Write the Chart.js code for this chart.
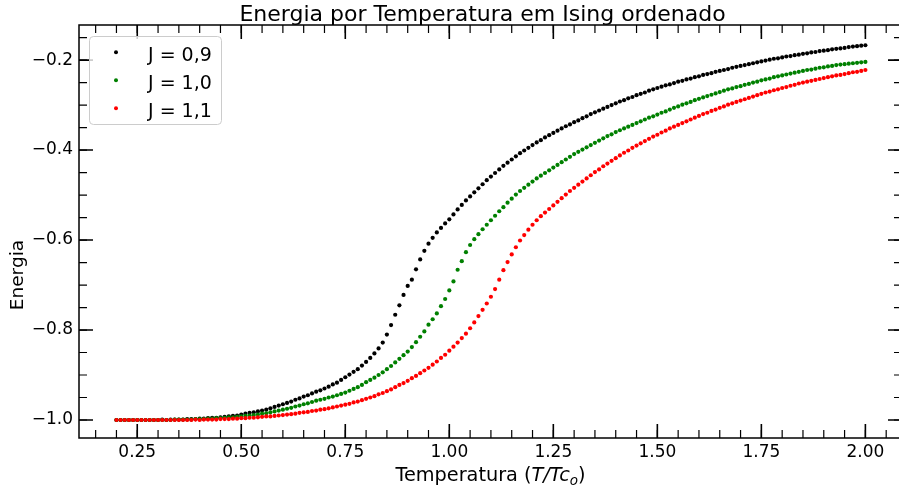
<!DOCTYPE html>
<html>
<head>
<meta charset="utf-8">
<script src="https://cdn.jsdelivr.net/npm/chart.js@4.4.0/dist/chart.umd.min.js"></script>
<style>
  html, body { margin: 0; padding: 0; background: #fff; overflow: hidden; }
</style>
</head>
<body>
<canvas id="grafico" width="905" height="490"></canvas>
<script>
// temperatura T/Tc_o
const temperatura = [
  0.20, 0.21, 0.22, 0.23, 0.24, 0.25, 0.26, 0.27, 0.28, 0.29,
  0.30, 0.31, 0.32, 0.33, 0.34, 0.35, 0.36, 0.37, 0.38, 0.39,
  0.40, 0.41, 0.42, 0.43, 0.44, 0.45, 0.46, 0.47, 0.48, 0.49,
  0.50, 0.51, 0.52, 0.53, 0.54, 0.55, 0.56, 0.57, 0.58, 0.59,
  0.60, 0.61, 0.62, 0.63, 0.64, 0.65, 0.66, 0.67, 0.68, 0.69,
  0.70, 0.71, 0.72, 0.73, 0.74, 0.75, 0.76, 0.77, 0.78, 0.79,
  0.80, 0.81, 0.82, 0.83, 0.84, 0.85, 0.86, 0.87, 0.88, 0.89,
  0.90, 0.91, 0.92, 0.93, 0.94, 0.95, 0.96, 0.97, 0.98, 0.99,
  1.00, 1.01, 1.02, 1.03, 1.04, 1.05, 1.06, 1.07, 1.08, 1.09,
  1.10, 1.11, 1.12, 1.13, 1.14, 1.15, 1.16, 1.17, 1.18, 1.19,
  1.20, 1.21, 1.22, 1.23, 1.24, 1.25, 1.26, 1.27, 1.28, 1.29,
  1.30, 1.31, 1.32, 1.33, 1.34, 1.35, 1.36, 1.37, 1.38, 1.39,
  1.40, 1.41, 1.42, 1.43, 1.44, 1.45, 1.46, 1.47, 1.48, 1.49,
  1.50, 1.51, 1.52, 1.53, 1.54, 1.55, 1.56, 1.57, 1.58, 1.59,
  1.60, 1.61, 1.62, 1.63, 1.64, 1.65, 1.66, 1.67, 1.68, 1.69,
  1.70, 1.71, 1.72, 1.73, 1.74, 1.75, 1.76, 1.77, 1.78, 1.79,
  1.80, 1.81, 1.82, 1.83, 1.84, 1.85, 1.86, 1.87, 1.88, 1.89,
  1.90, 1.91, 1.92, 1.93, 1.94, 1.95, 1.96, 1.97, 1.98, 1.99,
  2.00
];

// J = 0,9
const energiaJ09 = [
  -1.000, -1.000, -1.000, -1.000, -1.000, -1.000, -1.000, -1.000, -1.000, -1.000,
  -1.000, -0.999, -1.000, -0.999, -0.999, -0.999, -0.999, -0.998, -0.998, -0.998,
  -0.997, -0.997, -0.996, -0.995, -0.995, -0.994, -0.993, -0.992, -0.991, -0.990,
  -0.988, -0.986, -0.984, -0.983, -0.981, -0.979, -0.977, -0.974, -0.971, -0.968,
  -0.965, -0.962, -0.959, -0.955, -0.952, -0.948, -0.945, -0.941, -0.937, -0.934,
  -0.930, -0.926, -0.921, -0.917, -0.911, -0.905, -0.899, -0.893, -0.887, -0.879,
  -0.871, -0.862, -0.852, -0.841, -0.828, -0.810, -0.789, -0.766, -0.745, -0.722,
  -0.702, -0.688, -0.665, -0.643, -0.624, -0.608, -0.595, -0.583, -0.573, -0.563,
  -0.554, -0.543, -0.532, -0.522, -0.512, -0.503, -0.494, -0.485, -0.476, -0.467,
  -0.459, -0.451, -0.443, -0.435, -0.428, -0.421, -0.414, -0.407, -0.401, -0.395,
  -0.389, -0.383, -0.378, -0.372, -0.367, -0.362, -0.357, -0.352, -0.347, -0.343,
  -0.338, -0.334, -0.329, -0.325, -0.320, -0.316, -0.312, -0.308, -0.304, -0.300,
  -0.296, -0.292, -0.289, -0.285, -0.282, -0.278, -0.275, -0.272, -0.268, -0.265,
  -0.262, -0.259, -0.256, -0.254, -0.251, -0.248, -0.246, -0.243, -0.241, -0.238,
  -0.236, -0.233, -0.231, -0.229, -0.226, -0.224, -0.222, -0.220, -0.217, -0.215,
  -0.213, -0.211, -0.209, -0.207, -0.205, -0.203, -0.201, -0.199, -0.197, -0.196,
  -0.194, -0.192, -0.191, -0.189, -0.188, -0.186, -0.185, -0.183, -0.182, -0.180,
  -0.179, -0.178, -0.176, -0.175, -0.174, -0.173, -0.171, -0.170, -0.169, -0.168,
  -0.167
];

// J = 1,0
const energiaJ10 = [
  -1.000, -1.000, -1.000, -1.000, -1.000, -1.000, -1.000, -1.000, -1.000, -1.000,
  -1.000, -1.000, -1.000, -1.000, -0.999, -0.999, -0.999, -0.999, -0.999, -0.998,
  -0.998, -0.998, -0.997, -0.997, -0.996, -0.996, -0.995, -0.994, -0.994, -0.993,
  -0.992, -0.991, -0.990, -0.989, -0.988, -0.986, -0.985, -0.983, -0.981, -0.979,
  -0.977, -0.975, -0.973, -0.970, -0.968, -0.965, -0.963, -0.960, -0.957, -0.955,
  -0.953, -0.950, -0.948, -0.945, -0.942, -0.939, -0.935, -0.931, -0.927, -0.922,
  -0.916, -0.911, -0.906, -0.900, -0.894, -0.887, -0.880, -0.872, -0.864, -0.856,
  -0.848, -0.838, -0.827, -0.815, -0.803, -0.788, -0.776, -0.763, -0.747, -0.731,
  -0.712, -0.692, -0.666, -0.647, -0.627, -0.611, -0.598, -0.587, -0.576, -0.566,
  -0.556, -0.546, -0.536, -0.527, -0.517, -0.508, -0.499, -0.491, -0.484, -0.477,
  -0.470, -0.463, -0.457, -0.451, -0.445, -0.439, -0.433, -0.427, -0.421, -0.415,
  -0.409, -0.404, -0.399, -0.394, -0.389, -0.384, -0.379, -0.374, -0.369, -0.365,
  -0.360, -0.356, -0.352, -0.348, -0.344, -0.340, -0.336, -0.332, -0.328, -0.325,
  -0.321, -0.317, -0.314, -0.310, -0.306, -0.303, -0.299, -0.296, -0.293, -0.289,
  -0.286, -0.283, -0.280, -0.277, -0.274, -0.271, -0.268, -0.265, -0.263, -0.260,
  -0.258, -0.255, -0.253, -0.250, -0.248, -0.245, -0.243, -0.241, -0.238, -0.236,
  -0.234, -0.232, -0.230, -0.228, -0.226, -0.224, -0.222, -0.221, -0.219, -0.217,
  -0.216, -0.214, -0.213, -0.211, -0.210, -0.209, -0.208, -0.207, -0.206, -0.205,
  -0.204
];

// J = 1,1
const energiaJ11 = [
  -1.000, -1.000, -1.000, -1.000, -1.000, -1.000, -1.000, -1.000, -1.000, -1.000,
  -1.000, -1.000, -1.000, -1.000, -1.000, -1.000, -1.000, -1.000, -1.000, -0.999,
  -1.000, -0.999, -0.999, -0.999, -0.999, -0.998, -0.998, -0.998, -0.997, -0.997,
  -0.996, -0.996, -0.995, -0.995, -0.994, -0.993, -0.992, -0.992, -0.991, -0.990,
  -0.989, -0.988, -0.987, -0.986, -0.984, -0.983, -0.982, -0.980, -0.979, -0.977,
  -0.976, -0.974, -0.972, -0.970, -0.968, -0.966, -0.964, -0.961, -0.959, -0.956,
  -0.953, -0.950, -0.947, -0.943, -0.940, -0.936, -0.932, -0.927, -0.922, -0.918,
  -0.913, -0.907, -0.902, -0.896, -0.890, -0.884, -0.877, -0.870, -0.862, -0.855,
  -0.846, -0.837, -0.828, -0.818, -0.808, -0.796, -0.783, -0.769, -0.755, -0.741,
  -0.726, -0.709, -0.688, -0.667, -0.649, -0.632, -0.616, -0.601, -0.589, -0.577,
  -0.566, -0.556, -0.547, -0.539, -0.531, -0.523, -0.515, -0.507, -0.499, -0.491,
  -0.484, -0.477, -0.470, -0.463, -0.456, -0.449, -0.443, -0.436, -0.430, -0.424,
  -0.418, -0.412, -0.406, -0.401, -0.395, -0.390, -0.385, -0.380, -0.375, -0.370,
  -0.366, -0.361, -0.357, -0.352, -0.348, -0.344, -0.340, -0.336, -0.332, -0.328,
  -0.324, -0.320, -0.317, -0.313, -0.310, -0.306, -0.303, -0.299, -0.296, -0.293,
  -0.290, -0.287, -0.284, -0.281, -0.278, -0.275, -0.272, -0.270, -0.267, -0.265,
  -0.262, -0.260, -0.257, -0.255, -0.252, -0.250, -0.248, -0.246, -0.244, -0.242,
  -0.240, -0.238, -0.236, -0.234, -0.233, -0.231, -0.229, -0.227, -0.226, -0.224,
  -0.222
];

const rotulos = ["J = 0,9", "J = 1,0", "J = 1,1"];
const cores = ["#000000", "#008000", "#ff0000"];
const ticksX = [0.25, 0.5, 0.75, 1.0, 1.25, 1.5, 1.75, 2.0];
const ticksY = [-1.0, -0.8, -0.6, -0.4, -0.2];
const titulo = "Energia por Temperatura em Ising ordenado";
const tituloY = "Energia";

const FONTE = '"DejaVu Sans", sans-serif';
Chart.defaults.font.family = FONTE;
Chart.defaults.color = "#000";

function pontos(energia) {
    return temperatura.map((t, i) => ({ x: t, y: energia[i] }));
}

function serie(label, energia, cor, ordem) {
    return {
        label: label,
        data: pontos(energia),
        backgroundColor: cor,
        borderColor: cor,
        pointRadius: 2.1,
        pointBorderWidth: 0,
        pointHoverRadius: 2.1,
        showLine: false,
        order: ordem,
    };
}

// minor ticks every 0.05
function menores(min, max) {
    const out = [];
    for (let k = Math.ceil(min / 0.05); k * 0.05 <= max; k++) out.push(k * 0.05);
    return out;
}

const moldura = {
    id: "moldura",
    afterDraw(chart) {
        const { ctx, chartArea: a } = chart;
        const x = chart.scales.x;
        const y = chart.scales.y;
        ctx.save();
        ctx.strokeStyle = "#000";
        ctx.fillStyle = "#000";

        // ticks (inward, all four sides)
        const marca = (val, len, lw, eixo) => {
            ctx.lineWidth = lw;
            ctx.beginPath();
            if (eixo === "x") {
                const p = x.getPixelForValue(val);
                ctx.moveTo(p, a.bottom); ctx.lineTo(p, a.bottom - len);
                ctx.moveTo(p, a.top); ctx.lineTo(p, a.top + len);
            } else {
                const p = y.getPixelForValue(val);
                ctx.moveTo(a.left, p); ctx.lineTo(a.left + len, p);
                ctx.moveTo(a.right, p); ctx.lineTo(a.right - len, p);
            }
            ctx.stroke();
        };
        menores(x.min, x.max).forEach(v => marca(v, 8, 1.2, "x"));
        menores(y.min, y.max).forEach(v => marca(v, 8, 1.2, "y"));
        ticksX.forEach(v => marca(v, 14, 1.6, "x"));
        ticksY.forEach(v => marca(v, 14, 1.6, "y"));

        ctx.lineWidth = 1.5;
        ctx.strokeRect(a.left, a.top, a.right - a.left, a.bottom - a.top);

        // title
        const cx = (a.left + a.right) / 2;
        ctx.textAlign = "center";
        ctx.textBaseline = "alphabetic";
        ctx.font = "22px " + FONTE;
        ctx.fillText(titulo, cx - 8, 21);

        // x label: Temperatura (T/Tc_o)
        const partes = [
            { t: "Temperatura (", f: "19.3px " + FONTE, dy: 0 },
            { t: "T/Tc", f: "italic 19.3px " + FONTE, dy: 0 },
            { t: "o", f: "italic 13.5px " + FONTE, dy: 4 },
            { t: ")", f: "19.3px " + FONTE, dy: 0 },
        ];
        let total = 0;
        partes.forEach(p => { ctx.font = p.f; p.w = ctx.measureText(p.t).width; total += p.w; });
        let px = cx - total / 2;
        ctx.textAlign = "left";
        partes.forEach(p => { ctx.font = p.f; ctx.fillText(p.t, px, 481 + p.dy); px += p.w; });

        // y label
        ctx.save();
        ctx.translate(23, (y.getPixelForValue(-0.6) + y.getPixelForValue(-0.8)) / 2 - 10);
        ctx.rotate(-Math.PI / 2);
        ctx.textAlign = "center";
        ctx.font = "18.5px " + FONTE;
        ctx.fillText(tituloY, 0, 0);
        ctx.restore();

        // legend
        ctx.beginPath();
        ctx.roundRect(89.5, 36.5, 132, 88, 4);
        ctx.fillStyle = "rgba(255,255,255,0.8)";
        ctx.fill();
        ctx.strokeStyle = "#cccccc";
        ctx.lineWidth = 1;
        ctx.stroke();
        ctx.font = "19px " + FONTE;
        ctx.textAlign = "left";
        chart.data.datasets.forEach((ds, i) => {
            const ly = 52.3 + i * 28;
            ctx.fillStyle = ds.backgroundColor;
            ctx.beginPath();
            ctx.arc(116, ly, 2, 0, Math.PI * 2);
            ctx.fill();
            ctx.fillStyle = "#000";
            ctx.fillText(ds.label, 148, ly + 8.2);
        });
        ctx.restore();
    },
};

new Chart(document.getElementById("grafico"), {
    type: "scatter",
    data: {
        datasets: [
            serie(rotulos[0], energiaJ09, cores[0], 2),
            serie(rotulos[1], energiaJ10, cores[1], 1),
            serie(rotulos[2], energiaJ11, cores[2], 0),
        ],
    },
    options: {
        responsive: false,
        animation: false,
        events: [],
        layout: { padding: { top: 25, right: 3, left: 0, bottom: 0 } },
        plugins: {
            legend: { display: false },
            tooltip: { enabled: false },
            title: { display: false },
        },
        scales: {
            x: {
                type: "linear",
                min: 0.11,
                max: 2.088,
                afterBuildTicks: s => { s.ticks = ticksX.map(v => ({ value: v })); },
                afterFit: s => { s.height = 52; },
                grid: { display: false, drawTicks: false },
                border: { display: false },
                ticks: {
                    padding: 4,
                    autoSkip: false,
                    maxRotation: 0,
                    font: { size: 17 },
                    color: "#000",
                    callback: v => Number(v).toFixed(2),
                },
            },
            y: {
                type: "linear",
                min: -1.04,
                max: -0.122,
                afterBuildTicks: s => { s.ticks = ticksY.map(v => ({ value: v })); },
                afterFit: s => { s.width = 79; },
                grid: { display: false, drawTicks: false },
                border: { display: false },
                ticks: {
                    padding: 6,
                    font: { size: 17 },
                    color: "#000",
                    callback: v => (v < 0 ? "\u2212" : "") + Math.abs(v).toFixed(1),
                },
            },
        },
    },
    plugins: [moldura],
});
</script>
</body>
</html>
